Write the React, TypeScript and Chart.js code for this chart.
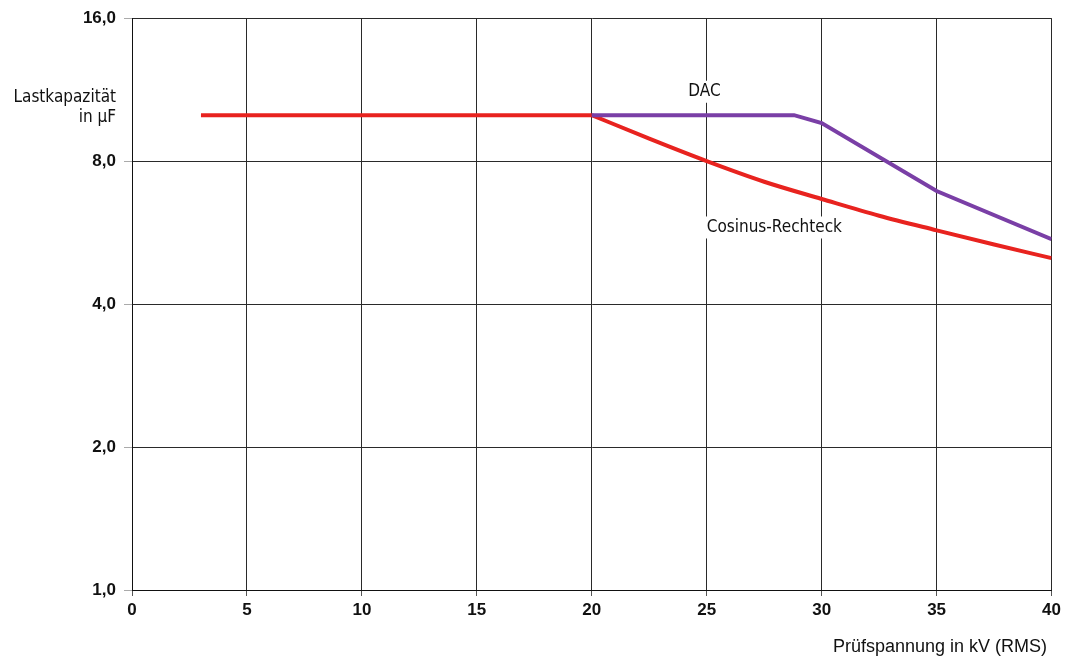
import React, { useEffect, useRef } from "react";
import { Chart, registerables } from "chart.js";

Chart.register(...registerables);

const xTicks = [0, 5, 10, 15, 20, 25, 30, 35, 40];
const yTicks = [1, 2, 4, 8, 16];
const yTickLabels = ["1,0", "2,0", "4,0", "8,0", "16,0"];

const cosX = [3, 20, 22.5, 25, 27.5, 30, 32.5, 35, 37.5, 40];
const cosY = [10, 10, 8.92, 8.0, 7.24, 6.66, 6.14, 5.72, 5.34, 5.0];

const dacX = [20, 28.8, 30, 35, 40];
const dacY = [10, 10, 9.62, 6.92, 5.48];

const seriesNames = ["DAC", "Cosinus-Rechteck"];

const LEFT = 132;
const RIGHT = 1052;
const TOP = 17;
const BOTTOM = 590;
const W = 1065;
const H = 661;

export default function App() {
  const ref = useRef<HTMLCanvasElement>(null);
  useEffect(() => {
    if (!ref.current) return;
    const labelFont = "17px 'DejaVu Sans Condensed', 'Liberation Sans', sans-serif";
    const annot = {
      id: "annot",
      afterDatasetsDraw(chart: any) {
        const ctx = chart.ctx;
        const xs = chart.scales.x;
        const ys = chart.scales.y;
        ctx.save();
        ctx.font = labelFont;
        ctx.textBaseline = "middle";
        ctx.textAlign = "left";
        const drawLabel = (t: string, x: number, y: number) => {
          const w = ctx.measureText(t).width;
          ctx.fillStyle = "#fff";
          ctx.fillRect(x - 2, y - 11, w + 4, 22);
          ctx.fillStyle = "#111";
          ctx.fillText(t, x, y);
        };
        drawLabel(seriesNames[0], xs.getPixelForValue(24.2), ys.getPixelForValue(11.2));
        drawLabel(seriesNames[1], xs.getPixelForValue(25), ys.getPixelForValue(5.8));
        ctx.restore();
      },
      afterDraw(chart: any) {
        const ctx = chart.ctx;
        ctx.save();
        ctx.fillStyle = "#111";
        ctx.font = labelFont;
        ctx.textAlign = "right";
        ctx.textBaseline = "middle";
        ctx.fillText("Lastkapazität", 116, 98);
        ctx.fillText("in µF", 116, 118);
        ctx.font = "18px 'Liberation Sans', Arial, sans-serif";
        ctx.fillText("Prüfspannung in kV (RMS)", 1047, 647);
        ctx.restore();
      },
    };
    const pts = (xs: number[], ys: number[]) => xs.map((x, i) => ({ x, y: ys[i] }));
    const tickFont = { family: "'Liberation Sans', Arial, sans-serif", size: 17, weight: "bold" };
    const chart = new Chart(ref.current, {
      type: "line",
      data: {
        datasets: [
          {
            label: seriesNames[0],
            data: pts(dacX, dacY),
            borderColor: "#7a3fa6",
            borderWidth: 4,
            pointRadius: 0,
            tension: 0,
          },
          {
            label: seriesNames[1],
            data: pts(cosX.slice(0, 2), cosY.slice(0, 2)),
            borderColor: "#e8231f",
            borderWidth: 4,
            pointRadius: 0,
            tension: 0,
          },
          {
            label: seriesNames[1],
            data: pts(cosX.slice(1), cosY.slice(1)),
            borderColor: "#e8231f",
            borderWidth: 4,
            pointRadius: 0,
            cubicInterpolationMode: "monotone",
          },
        ],
      },
      plugins: [annot],
      options: {
        animation: false,
        responsive: false,
        layout: { padding: { left: 0, right: W - RIGHT, top: TOP, bottom: 0 } },
        plugins: { legend: { display: false }, tooltip: { enabled: false } },
        scales: {
          x: {
            type: "linear",
            min: 0,
            max: 40,
            afterBuildTicks(s: any) {
              s.ticks = xTicks.map((v) => ({ value: v }));
            },
            afterFit(s: any) {
              s.height = H - BOTTOM;
            },
            grid: { color: "#2a2a2a", lineWidth: 1, tickLength: 6, tickColor: "#555" },
            border: { color: "#111", width: 1 },
            ticks: {
              color: "#111",
              padding: 4,
              maxRotation: 0,
              font: tickFont,
              callback: (v: any) => String(v),
            },
          },
          y: {
            type: "logarithmic",
            min: 1,
            max: 16,
            afterBuildTicks(s: any) {
              s.ticks = yTicks.map((v) => ({ value: v }));
            },
            afterFit(s: any) {
              s.width = LEFT;
            },
            grid: { color: "#2a2a2a", lineWidth: 1, tickLength: 8, tickColor: "#aaa" },
            border: { color: "#111", width: 1 },
            ticks: {
              color: "#111",
              padding: 8,
              font: tickFont,
              callback: (v: any) => {
                const i = yTicks.indexOf(Number(v));
                return i >= 0 ? yTickLabels[i] : "";
              },
            },
          },
        },
      },
    } as any);
    return () => chart.destroy();
  }, []);
  return (
    <div style={{ position: "fixed", left: 0, top: 0, width: W, height: H, background: "#fff" }}>
      <canvas ref={ref} width={W} height={H} style={{ width: W, height: H, display: "block" }} />
    </div>
  );
}
